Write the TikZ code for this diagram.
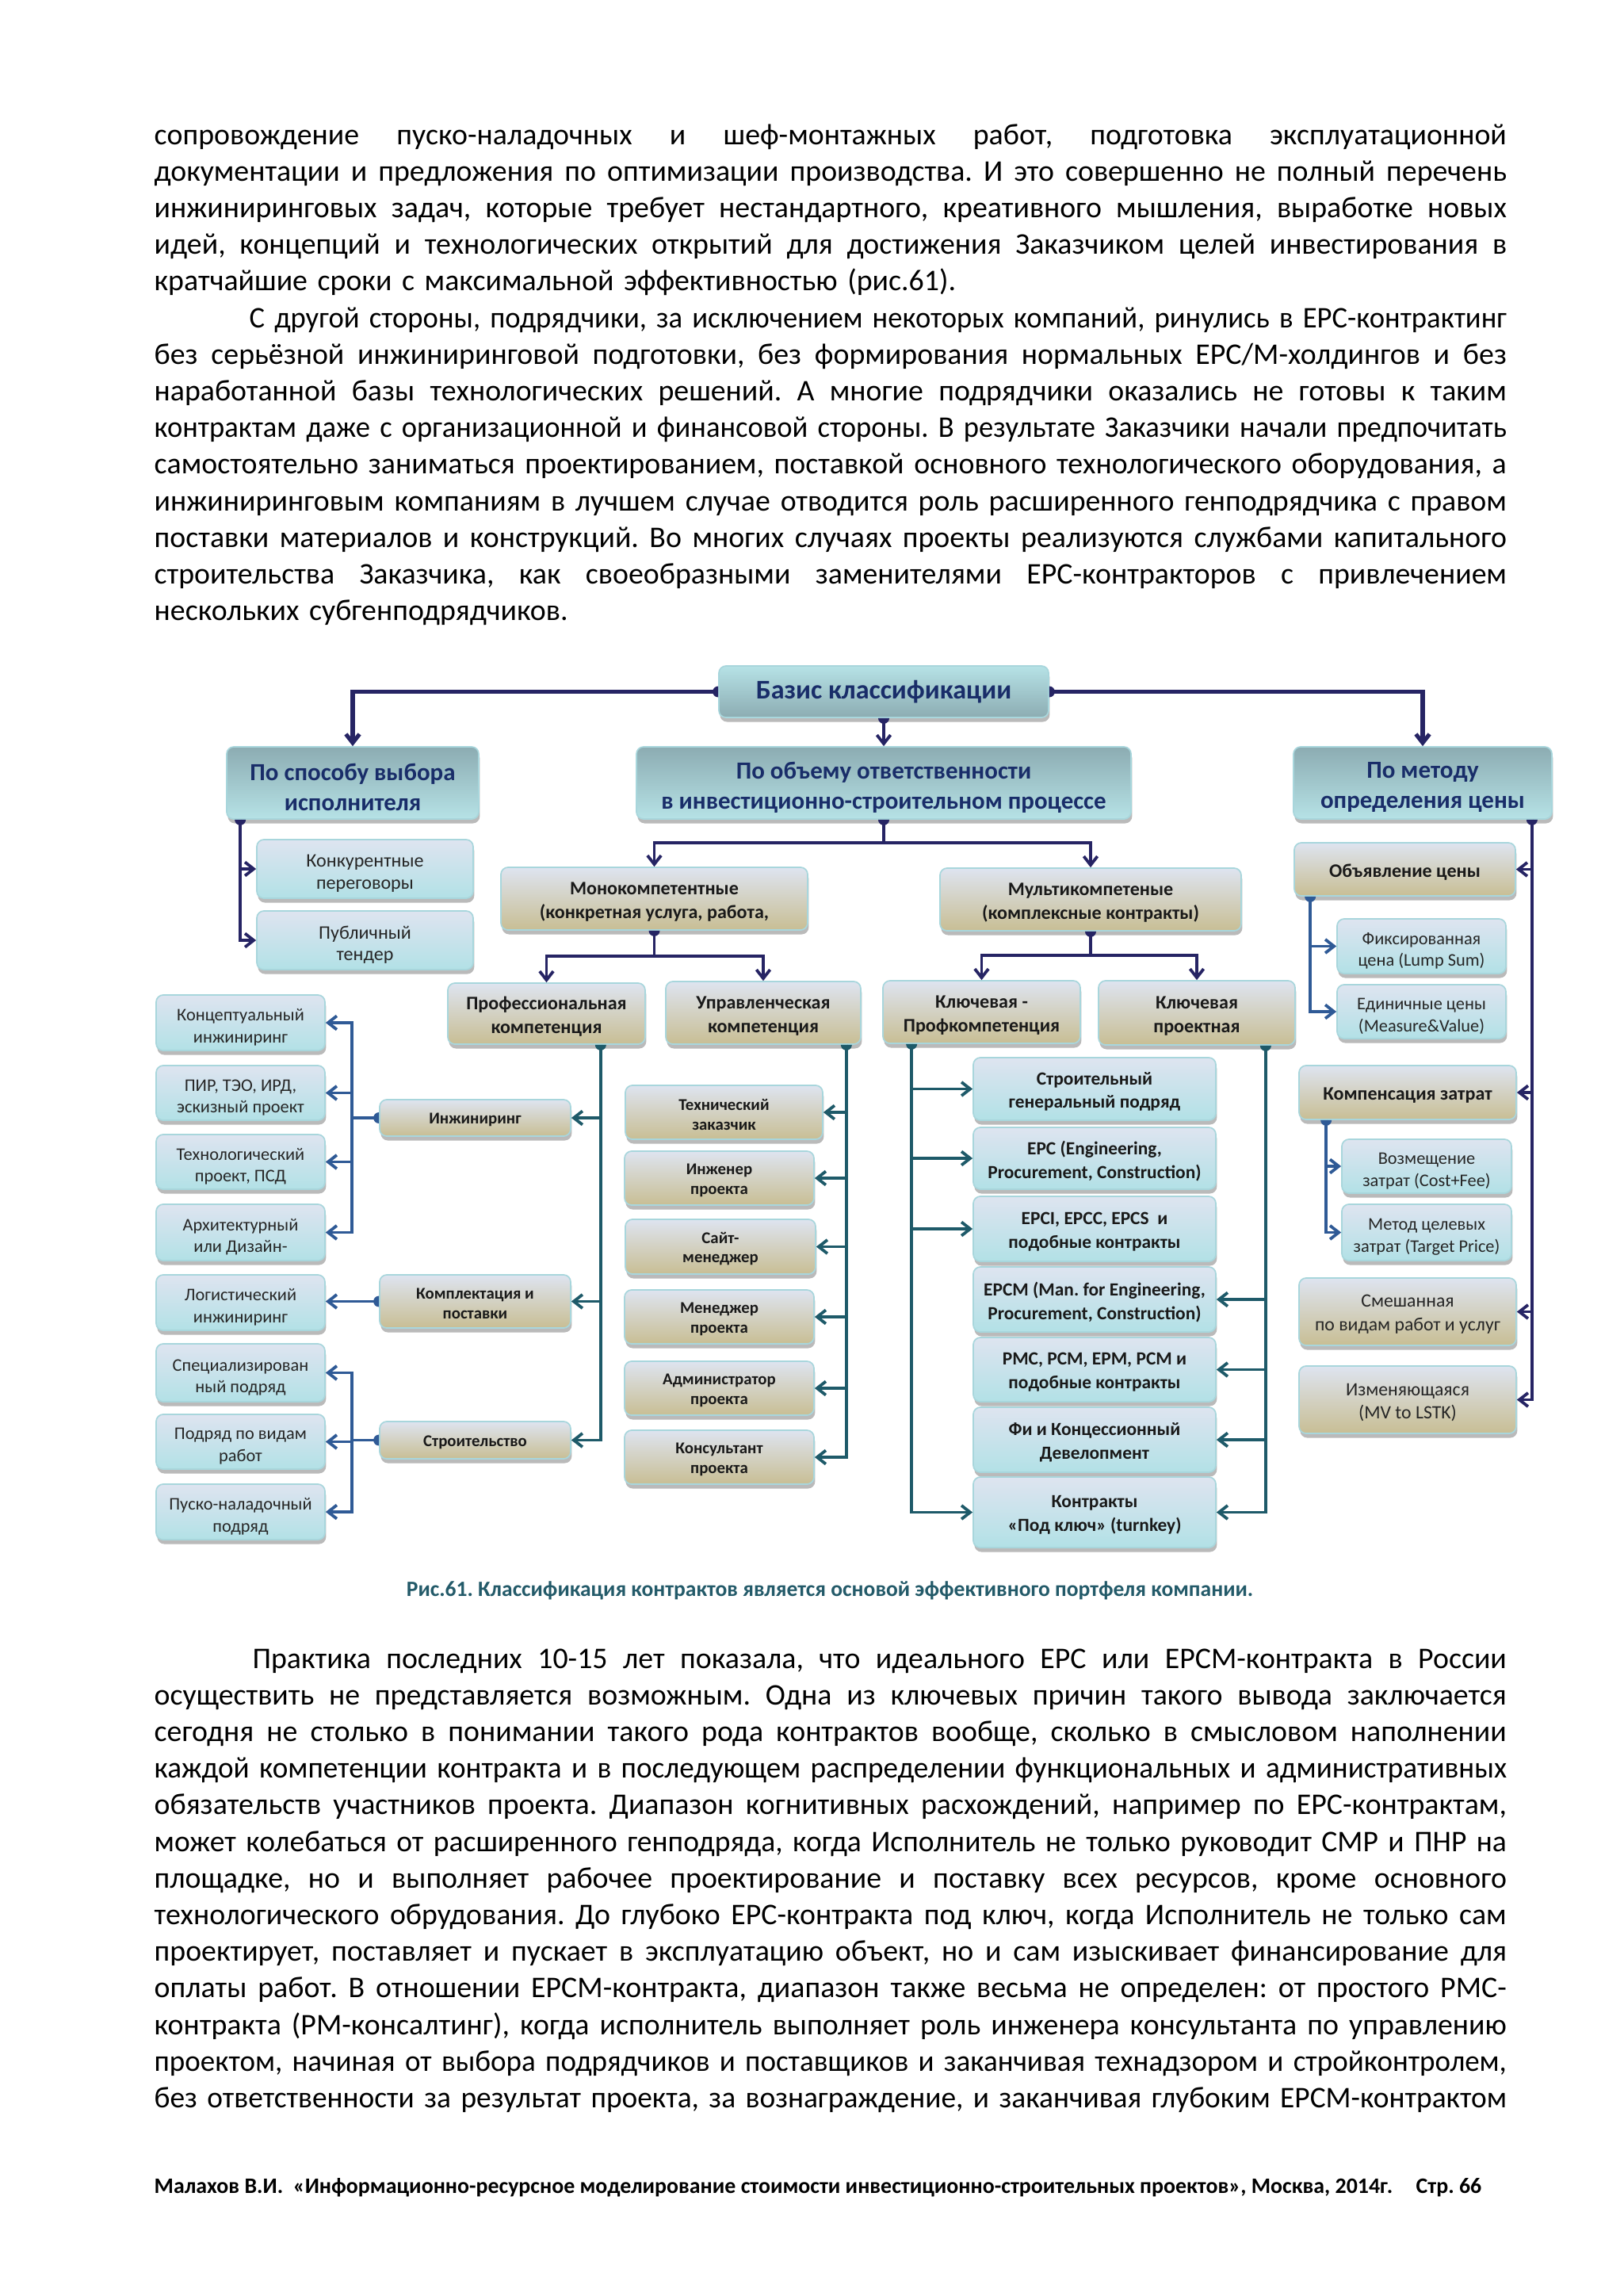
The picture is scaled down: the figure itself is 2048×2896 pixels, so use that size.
\documentclass[tikz,border=0pt]{standalone}
\usepackage{fontspec}
\usepackage{graphicx}
\setmainfont{Carlito}
\frenchspacing
\usetikzlibrary{arrows.meta,shadows,calc}
\definecolor{navy}{RGB}{38,36,100}
\definecolor{tealc}{RGB}{30,90,105}
\definecolor{bluec}{RGB}{47,90,150}
\definecolor{txtnavy}{RGB}{25,45,105}
\definecolor{khaki}{RGB}{200,190,148}
\definecolor{lavtop}{RGB}{222,228,240}
\definecolor{cyanbot}{RGB}{178,225,230}
\definecolor{bord}{RGB}{168,214,220}
\definecolor{lonelight}{RGB}{182,226,230}
\definecolor{lonedark}{RGB}{140,172,178}
\definecolor{captc}{RGB}{35,90,105}
\newlength\textw
\setlength\textw{495.9pt}
\newsavebox\jlbox
\newcommand\jl[1]{\sbox\jlbox{\frenchspacing #1}\ifdim\wd\jlbox>\textw\relax\hbox{\resizebox{\textw}{\height}{\usebox\jlbox}}\else\hbox to\textw{\frenchspacing\spaceskip=0.226em plus 1fil\relax\xspaceskip=\spaceskip #1}\fi}
\newcommand\bx[7]{\node[#6, minimum width={(#4-#2)*0.29067pt}, minimum height={(#5-#3)*0.29067pt}] (#1) at ({(#2+#4)/2},{(#3+#5)/2}) {};
  \node[#6 txt] (#1t) at (#1.center) {#7};}
\newcommand\dotD[2]{\fill[#1] (#2) ++(7,0) arc[start angle=0,end angle=180,radius=7] -- cycle;}
\newcommand\dotL[2]{\fill[#1] (#2) ++(0,7) arc[start angle=90,end angle=270,radius=7] -- cycle;}
\newcommand\dotR[2]{\fill[#1] (#2) ++(0,-7) arc[start angle=-90,end angle=90,radius=7] -- cycle;}
\tikzset{
  boxbase/.style={rounded corners=2.6pt, draw=bord, line width=0.5pt, inner sep=0pt,
    drop shadow={shadow xshift=0.4pt, shadow yshift=-1.6pt, fill=black!45, opacity=0.6}},
  txtbase/.style={inner sep=0pt, align=center},
  lvlzero/.style={boxbase, top color=lonelight, bottom color=lonedark},
  lvlzero txt/.style={txtbase, text=txtnavy, font=\bfseries\fontsize{9.9}{12}\selectfont},
  lvlone/.style={boxbase, top color=lonedark, bottom color=lonelight},
  lvlone txt/.style={txtbase, text=txtnavy, font=\bfseries\fontsize{9}{11}\selectfont, yshift=-1.6pt},
  khb/.style={boxbase, top color=lavtop, bottom color=khaki},
  khb txt/.style={txtbase, text=black!90, font=\bfseries\fontsize{7}{8.7}\selectfont, yshift=-1.1pt},
  khs/.style={boxbase, top color=lavtop, bottom color=khaki},
  khs txt/.style={txtbase, text=black!90, font=\bfseries\fontsize{6.05}{7.1}\selectfont, yshift=-0.8pt},
  khr/.style={boxbase, top color=lavtop, bottom color=khaki},
  khr txt/.style={txtbase, text=black!85, font=\fontsize{6.9}{8.6}\selectfont, yshift=-1pt},
  leaf/.style={boxbase, top color=lavtop, bottom color=cyanbot},
  leaf txt/.style={txtbase, text=black!85, font=\fontsize{7}{8}\selectfont, yshift=-1.7pt},
  leafs/.style={boxbase, top color=lavtop, bottom color=cyanbot},
  leafs txt/.style={txtbase, text=black!85, font=\fontsize{6.5}{8}\selectfont, yshift=-1.7pt},
  epcbox/.style={boxbase, top color=lavtop, bottom color=cyanbot},
  epcbox txt/.style={txtbase, text=black!90, font=\bfseries\fontsize{6.8}{8.6}\selectfont, yshift=-1pt},
  tip/.style={-{Straight Barb[length=3.2pt,width=5pt]}},
  navT/.style={draw=navy, line width=1.5pt},
  nav/.style={draw=navy, line width=1.1pt},
  tl/.style={draw=tealc, line width=1.1pt},
  bl/.style={draw=bluec, line width=1.1pt},
  para/.style={anchor=base west, inner sep=0pt, text width=495.9pt, font=\fontsize{11}{13.43}\selectfont}
}
\begin{document}
\begin{tikzpicture}[x=0.29067pt, y=-0.29067pt]
\fill[white] (0,0) rectangle (2048,2896);
\useasboundingbox (0,0) rectangle (2048,2896);

% ---------- body text ----------
\node[para] (p1) at (194,182) {%
\jl{сопровождение пуско-наладочных и шеф-монтажных работ, подготовка эксплуатационной}
\jl{документации и предложения по оптимизации производства. И это совершенно не полный перечень}
\jl{инжиниринговых задач, которые требует нестандартного, креативного мышления, выработке новых}
\jl{идей, концепций и технологических открытий для достижения Заказчиком целей инвестирования в}
\hbox{кратчайшие сроки с максимальной эффективностью (рис.61).}};

\node[para] (p2) at (194,413) {%
\jl{\hskip 36pt С другой стороны, подрядчики, за исключением некоторых компаний, ринулись в EPC-контрактинг}
\jl{без серьёзной инжиниринговой подготовки, без формирования нормальных EPC/M-холдингов и без}
\jl{наработанной базы технологических решений. А многие подрядчики оказались не готовы к таким}
\jl{контрактам даже с организационной и финансовой стороны. В результате Заказчики начали предпочитать}
\jl{самостоятельно заниматься проектированием, поставкой основного технологического оборудования, а}
\jl{инжиниринговым компаниям в лучшем случае отводится роль расширенного генподрядчика с правом}
\jl{поставки материалов и конструкций. Во многих случаях проекты реализуются службами капитального}
\jl{строительства Заказчика, как своеобразными заменителями EPC-контракторов с привлечением}
\hbox{нескольких субгенподрядчиков.}};

\node[para] (p3) at (194,2104) {%
\jl{\hskip 36pt Практика последних 10-15 лет показала, что идеального EPC или EPCM-контракта в России}
\jl{осуществить не представляется возможным. Одна из ключевых причин такого вывода заключается}
\jl{сегодня не столько в понимании такого рода контрактов вообще, сколько в смысловом наполнении}
\jl{каждой компетенции контракта и в последующем распределении функциональных и административных}
\jl{обязательств участников проекта. Диапазон когнитивных расхождений, например по EPC-контрактам,}
\jl{может колебаться от расширенного генподряда, когда Исполнитель не только руководит СМР и ПНР на}
\jl{площадке, но и выполняет рабочее проектирование и поставку всех ресурсов, кроме основного}
\jl{технологического обрудования. До глубоко EPC-контракта под ключ, когда Исполнитель не только сам}
\jl{проектирует, поставляет и пускает в эксплуатацию объект, но и сам изыскивает финансирование для}
\jl{оплаты работ. В отношении EPCM-контракта, диапазон также весьма не определен: от простого PMC-}
\jl{контракта (PM-консалтинг), когда исполнитель выполняет роль инженера консультанта по управлению}
\jl{проектом, начиная от выбора подрядчиков и поставщиков и заканчивая технадзором и стройконтролем,}
\jl{без ответственности за результат проекта, за вознаграждение, и заканчивая глубоким EPCM-контрактом}};

\node[anchor=base, inner sep=0pt, text=captc, font=\bfseries\fontsize{8}{10}\selectfont] (cap) at (1047,2013)
  {Рис.61. Классификация контрактов является основой эффективного портфеля компании.};
\node[anchor=base west, inner sep=0pt, font=\bfseries\fontsize{8.1}{10}\selectfont] (foot) at (194,2766)
  {Малахов В.И.\ \ «Информационно-ресурсное моделирование стоимости инвестиционно-строительных проектов», Москва, 2014г.};
\node[anchor=base west, inner sep=0pt, font=\bfseries\fontsize{8.1}{10}\selectfont] (pg) at (1786,2766) {Стр. 66};

% ---------- diagram boxes ----------
\bx{basis}{907}{840}{1323}{905}{lvlzero}{Базис классификации}
\bx{sposob}{286}{942}{604}{1033}{lvlone}{По способу выбора\\исполнителя}
\bx{obem}{803}{942}{1427}{1033}{lvlone}{По объему ответственности\\в инвестиционно-строительном процессе}
\bx{metod}{1632}{942}{1958}{1033}{lvlone}{По методу\\определения цены}

\bx{konk}{324}{1059}{597}{1133}{leaf}{Конкурентные\\переговоры}
\bx{publ}{324}{1149}{597}{1223}{leaf}{Публичный\\тендер}

\bx{mono}{632}{1094}{1019}{1173}{khb}{Монокомпетентные\\(конкретная услуга, работа,}
\bx{multi}{1186}{1095}{1566}{1174}{khb}{Мультикомпетеные\\(комплексные контракты)}
\bx{prof}{565}{1240}{814}{1317}{khb}{Профессиональная\\компетенция}
\bx{upr}{840}{1238}{1086}{1317}{khb}{Управленческая\\компетенция}
\bx{klone}{1114}{1237}{1363}{1316}{khb}{Ключевая -\\Профкомпетенция}
\bx{kltwo}{1386}{1237}{1634}{1318}{khb}{Ключевая\\проектная}

\bx{obyav}{1633}{1063}{1912}{1130}{khb}{Объявление цены}
\bx{fiks}{1687}{1159}{1900}{1228}{leafs}{Фиксированная\\цена (Lump Sum)}
\bx{edin}{1687}{1242}{1900}{1310}{leafs}{Единичные цены\\(Measure\&Value)}
\bx{komp}{1639}{1344}{1913}{1412}{khb}{Компенсация затрат}
\bx{vozm}{1693}{1437}{1907}{1505}{leafs}{Возмещение\\затрат (Cost+Fee)}
\bx{metc}{1693}{1519}{1907}{1590}{leafs}{Метод целевых\\затрат (Target Price)}
\bx{smesh}{1639}{1612}{1913}{1697}{khr}{Смешанная\\по видам работ и услуг}
\bx{izm}{1639}{1723}{1913}{1808}{khr}{Изменяющаяся\\(MV to LSTK)}

\bx{konc}{197}{1255}{410}{1325}{leafs}{Концептуальный\\инжиниринг}
\bx{pir}{197}{1344}{410}{1413}{leafs}{ПИР, ТЭО, ИРД,\\эскизный проект}
\bx{tehn}{197}{1431}{410}{1500}{leafs}{Технологический\\проект, ПСД}
\bx{arch}{197}{1519}{410}{1590}{leafs}{Архитектурный\\или Дизайн-}
\bx{logi}{197}{1608}{410}{1678}{leafs}{Логистический\\инжиниринг}
\bx{spec}{197}{1695}{410}{1768}{leafs}{Специализирован\\ный подряд}
\bx{podr}{197}{1784}{410}{1853}{leafs}{Подряд по видам\\работ}
\bx{pusk}{197}{1872}{410}{1942}{leafs}{Пуско-наладочный\\подряд}

\bx{inzh}{479}{1387}{720}{1433}{khs}{Инжиниринг}
\bx{kompl}{479}{1608}{720}{1675}{khs}{Комплектация и\\поставки}
\bx{stroi}{479}{1793}{720}{1840}{khs}{Строительство}

\bx{tech}{789}{1369}{1038}{1437}{khs}{Технический\\заказчик}
\bx{inzp}{788}{1452}{1027}{1520}{khs}{Инженер\\проекта}
\bx{sait}{789}{1538}{1029}{1607}{khs}{Сайт-\\менеджер}
\bx{meng}{788}{1627}{1027}{1695}{khs}{Менеджер\\проекта}
\bx{adm}{788}{1717}{1027}{1785}{khs}{Администратор\\проекта}
\bx{kons}{788}{1804}{1027}{1872}{khs}{Консультант\\проекта}

\bx{sgp}{1228}{1334}{1534}{1413}{epcbox}{Строительный\\генеральный подряд}
\bx{epc}{1228}{1422}{1534}{1500}{epcbox}{EPC (Engineering,\\Procurement, Construction)}
\bx{epci}{1228}{1509}{1534}{1591}{epcbox}{EPCI, EPCC, EPCS\ \ и\\подобные контракты}
\bx{epcm}{1228}{1598}{1534}{1680}{epcbox}{EPCM (Man. for Engineering,\\Procurement, Construction)}
\bx{pmc}{1228}{1687}{1534}{1768}{epcbox}{PMC, PCM, EPM, PCM и\\подобные контракты}
\bx{fi}{1228}{1775}{1534}{1857}{epcbox}{Фи и Концессионный\\Девелопмент}
\bx{turn}{1228}{1863}{1534}{1952}{epcbox}{Контракты\\«Под ключ» (turnkey)}

% ---------- connectors ----------
\draw[navT,tip] (basis.west) -| (sposob.north);
\draw[navT,tip] (basis.east) -| (metod.north);
\draw[nav,tip] (basis.south) -- (obem.north);
\dotL{navy}{basis.west}
\dotR{navy}{basis.east}
\dotD{navy}{basis.south}

\coordinate (spd) at ($(sposob.south west)+(18,0)$);
\draw[nav,tip] (spd) |- (konk.west);
\draw[nav,tip] (spd) |- (publ.west);
\dotD{navy}{spd}

\coordinate (mtd) at ($(metod.south east)+(-26,0)$);
\draw[nav,tip] (mtd) |- (obyav.east);
\draw[nav,tip] (mtd) |- (komp.east);
\draw[nav,tip] (mtd) |- (smesh.east);
\draw[nav,tip] (mtd) |- (izm.east);
\dotD{navy}{mtd}

\coordinate (obj) at ($(obem.south)+(0,29)$);
\draw[nav] (obem.south) -- (obj);
\draw[nav,tip] (obj) -| (mono.north);
\draw[nav,tip] (obj) -| (multi.north);
\dotD{navy}{obem.south}

\coordinate (moj) at ($(mono.south)+(0,32)$);
\draw[nav] (mono.south) -- (moj);
\draw[nav,tip] (moj) -| (prof.north);
\draw[nav,tip] (moj) -| (upr.north);
\dotD{navy}{mono.south}

\coordinate (muj) at ($(multi.south)+(0,30)$);
\draw[nav] (multi.south) -- (muj);
\draw[nav,tip] (muj) -| (klone.north);
\draw[nav,tip] (muj) -| (kltwo.north);
\dotD{navy}{multi.south}

\coordinate (prj) at ($(prof.south east)+(-57,0)$);
\draw[tl,tip] (prj) |- (inzh.east);
\draw[tl,tip] (prj) |- (kompl.east);
\draw[tl,tip] (prj) |- (stroi.east);
\dotD{tealc}{prj}

\coordinate (upj) at ($(upr.south east)+(-19,0)$);
\foreach \t in {tech,inzp,sait,meng,adm,kons} \draw[tl,tip] (upj) |- (\t.east);
\dotD{tealc}{upj}

\coordinate (kaj) at ($(klone.south west)+(37,0)$);
\foreach \t in {sgp,epc,epci,turn} \draw[tl,tip] (kaj) |- (\t.west);
\dotD{tealc}{kaj}

\coordinate (kbj) at ($(kltwo.south east)+(-38,0)$);
\foreach \t in {epcm,pmc,fi,turn} \draw[tl,tip] (kbj) |- (\t.east);
\dotD{tealc}{kbj}

\coordinate (oyj) at ($(obyav.south west)+(21,0)$);
\draw[bl,tip] (oyj) |- (fiks.west);
\draw[bl,tip] (oyj) |- (edin.west);
\dotD{bluec}{oyj}

\coordinate (kpj) at ($(komp.south west)+(35,0)$);
\draw[bl,tip] (kpj) |- (vozm.west);
\draw[bl,tip] (kpj) |- (metc.west);
\dotD{bluec}{kpj}

\coordinate (inj) at ($(inzh.west)+(-34,0)$);
\draw[bl] (inzh.west) -- (inj);
\foreach \t in {konc,pir,tehn,arch} \draw[bl,tip] (inj) |- (\t.east);
\dotL{bluec}{inzh.west}

\draw[bl,tip] (kompl.west) -- (kompl.west -| logi.east);
\dotL{bluec}{kompl.west}

\coordinate (stj) at ($(stroi.west)+(-34,0)$);
\draw[bl] (stroi.west) -- (stj);
\foreach \t in {spec,podr,pusk} \draw[bl,tip] (stj) |- (\t.east);
\dotL{bluec}{stroi.west}
\end{tikzpicture}
\end{document}
